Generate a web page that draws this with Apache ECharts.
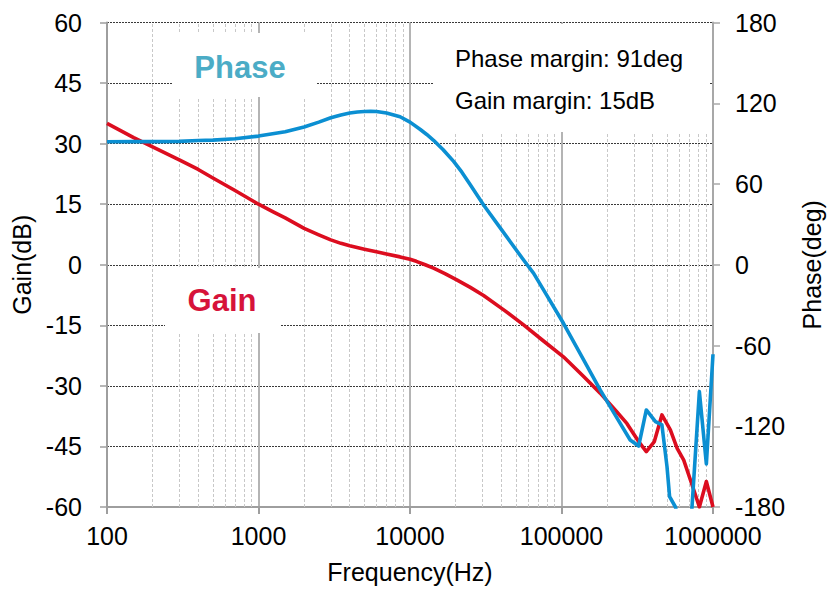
<!DOCTYPE html>
<html>
<head>
<meta charset="utf-8">
<script src="https://cdn.jsdelivr.net/npm/echarts@6/dist/echarts.min.js"></script>
<style>
  html, body { margin: 0; padding: 0; background: #ffffff; }
  #chart { width: 832px; height: 592px; }
</style>
</head>
<body>
<div id="chart"></div>
<script>
// Loop gain (dB) vs frequency (Hz)
const gainFreq = [100, 150, 200, 300, 400, 500, 700, 1000, 1250, 1500, 2000, 2500, 3000, 3500, 4000,
  5000, 6000, 7000, 8600, 10000, 11000, 12600, 14300, 17000, 20500, 25000, 30600, 42000, 56200,
  75000, 103000, 140000, 180000, 230000, 270000, 323000, 363000, 410000, 460000, 523000, 580000,
  641000, 747000, 813000, 904000, 1000000];
const gainDb = [35, 31.5, 29.2, 26, 23.6, 21.5, 18.4, 15, 13.1, 11.6, 9, 7.4, 6.15, 5.3, 4.7,
  3.85, 3.2, 2.65, 1.95, 1.35, 0.85, 0, -0.85, -2.2, -3.8, -5.6, -7.6, -11.3, -14.9,
  -18.7, -22.8, -27.7, -31.8, -36.3, -39.3, -43.8, -46.3, -43.8, -37.2, -40.9, -45.5,
  -48.4, -55.8, -60, -53.7, -60];

// Loop phase (deg) vs frequency (Hz)
const phaseFreq = [100, 150, 200, 300, 400, 500, 700, 1000, 1500, 2000, 2500, 3000, 3500, 4000, 4500,
  5000, 5500, 6000, 7000, 8600, 10000, 11700, 12900, 14300, 16500, 19400, 22000, 25000, 30600, 38000,
  45900, 56200, 65500, 80000, 103000, 140000, 180000, 230000, 284000, 323000, 363000, 417000, 460000,
  497000, 517000, 565000, 640000, 708000, 813000, 904000, 1000000];
const phaseDeg = [91.4, 91.5, 91.5, 91.7, 92.3, 92.6, 93.6, 95.6, 98.8, 102.4, 106, 109.2, 111.3, 112.7, 113.5,
  113.9, 114.1, 113.9, 112.8, 110, 106, 100.5, 96.8, 92.5, 85.6, 76.8, 68.8, 59.5, 44.4, 29.8,
  17.1, 3.5, -6.4, -22.8, -43.5, -70.7, -93, -113, -130.2, -134.7, -107.9, -116.6, -119,
  -150, -172.3, -180, -205, -200, -94.3, -148, -66.5];

// Axis ranges: [min, max, step]
const gainAxis = [-60, 60, 15];
const phaseAxis = [-180, 180, 60];
const freqAxis = [100, 1000000];

// Annotation texts
const phaseMarginText = 'Phase margin: 91deg';
const gainMarginText = 'Gain margin: 15dB';

// Minor log grid positions (2..9 within each decade)
const minorFreqs = [];
for (let d = freqAxis[0]; d < freqAxis[1]; d *= 10) {
  for (let m = 2; m <= 9; m++) minorFreqs.push(m * d);
}

const FONT = '"Liberation Sans", Arial, sans-serif';
const zip = (xs, ys) => xs.map((x, i) => [x, ys[i]]);

const chart = echarts.init(document.getElementById('chart'), null, { renderer: 'svg' });

chart.setOption({
  animation: false,
  backgroundColor: '#ffffff',
  grid: { left: 107, right: 118, top: 22.5, bottom: 85, containLabel: false },
  xAxis: {
    type: 'log',
    logBase: 10,
    min: freqAxis[0],
    max: freqAxis[1],
    name: 'Frequency(Hz)',
    nameLocation: 'middle',
    nameGap: 52,
    nameTextStyle: { fontFamily: FONT, fontSize: 25, color: '#000' },
    axisLine: { show: true, onZero: false, lineStyle: { color: '#9e9e9e', width: 2 } },
    axisTick: { show: true, inside: false, length: 7, lineStyle: { color: '#9e9e9e', width: 2 } },
    axisLabel: {
      fontFamily: FONT, fontSize: 25, color: '#000', margin: 16,
      formatter: v => String(Math.round(v))
    },
    splitLine: { show: true, lineStyle: { color: '#b4b4b4', width: 2 } }
  },
  yAxis: [
    {
      type: 'value',
      min: gainAxis[0], max: gainAxis[1], interval: gainAxis[2],
      position: 'left',
      name: 'Gain(dB)',
      nameLocation: 'middle',
      nameGap: 70,
      nameTextStyle: { fontFamily: FONT, fontSize: 25, color: '#000' },
      axisLine: { show: true, lineStyle: { color: '#9e9e9e', width: 2 } },
      axisTick: { show: true, inside: false, length: 7, lineStyle: { color: '#9e9e9e', width: 1.5 } },
      axisLabel: { fontFamily: FONT, fontSize: 25, color: '#000', margin: 25 },
      splitLine: { show: true, lineStyle: { color: '#3a3a3a', width: 1, type: [2, 1] } }
    },
    {
      type: 'value',
      min: phaseAxis[0], max: phaseAxis[1], interval: phaseAxis[2],
      position: 'right',
      name: 'Phase(deg)',
      nameLocation: 'middle',
      nameGap: 86,
      nameTextStyle: { fontFamily: FONT, fontSize: 25, color: '#000' },
      axisLine: { show: true, lineStyle: { color: '#a8a8a8', width: 2 } },
      axisTick: { show: true, inside: false, length: 7, lineStyle: { color: '#a8a8a8', width: 1.5 } },
      axisLabel: { fontFamily: FONT, fontSize: 25, color: '#000', margin: 22 },
      splitLine: { show: false }
    }
  ],
  series: [
    {
      name: 'Gain',
      type: 'line',
      xAxisIndex: 0,
      yAxisIndex: 0,
      data: zip(gainFreq, gainDb),
      showSymbol: false,
      symbol: 'none',
      clip: true,
      z: 3,
      lineStyle: { color: '#dc0d1f', width: 3.6, join: 'round' },
      markLine: {
        silent: true,
        z: 1,
        symbol: ['none', 'none'],
        label: { show: false },
        lineStyle: { color: '#c8c8c8', width: 1, type: [3, 2] },
        emphasis: { disabled: true },
        data: minorFreqs.map(f => ({ xAxis: f }))
      }
    },
    {
      name: 'Phase',
      type: 'line',
      xAxisIndex: 0,
      yAxisIndex: 1,
      data: zip(phaseFreq, phaseDeg),
      showSymbol: false,
      symbol: 'none',
      clip: true,
      z: 4,
      lineStyle: { color: '#0b8fd2', width: 3.6, join: 'round' }
    }
  ],
  graphic: [
    // "Phase" caption on a white plate
    { type: 'rect', z: 10, shape: { x: 172, y: 33, width: 145, height: 64 }, style: { fill: '#ffffff' } },
    { type: 'text', z: 11, style: { x: 240, y: 67, text: 'Phase', font: 'bold 31px ' + FONT,
        fill: '#4bacc6', align: 'center', verticalAlign: 'middle' } },
    // "Gain" caption on a white plate
    { type: 'rect', z: 10, shape: { x: 165, y: 268, width: 115, height: 65 }, style: { fill: '#ffffff' } },
    { type: 'text', z: 11, style: { x: 222, y: 300, text: 'Gain', font: 'bold 31px ' + FONT,
        fill: '#d6133a', align: 'center', verticalAlign: 'middle' } },
    // stability margins box
    { type: 'rect', z: 10, shape: { x: 433, y: 24, width: 277, height: 108 }, style: { fill: '#ffffff' } },
    { type: 'text', z: 11, style: { x: 455, y: 58, text: phaseMarginText, font: '24px ' + FONT,
        fill: '#000000', align: 'left', verticalAlign: 'middle' } },
    { type: 'text', z: 11, style: { x: 455, y: 100, text: gainMarginText, font: '24px ' + FONT,
        fill: '#000000', align: 'left', verticalAlign: 'middle' } }
  ]
});
</script>
</body>
</html>
